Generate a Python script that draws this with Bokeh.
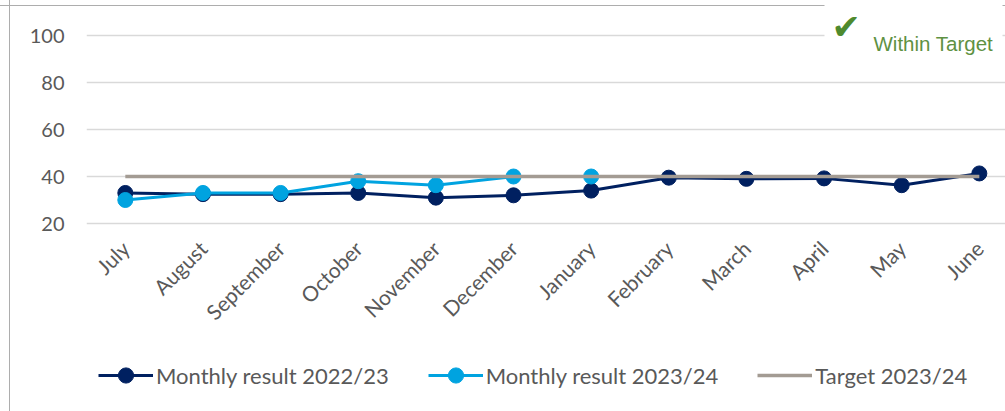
import math
from bokeh.plotting import figure
from bokeh.models import (FixedTicker, Legend, LegendItem, Label, BoxAnnotation,
                          Range1d, ColumnDataSource)
from bokeh.embed import file_html
from bokeh.resources import INLINE

months = ["July", "August", "September", "October", "November", "December",
          "January", "February", "March", "April", "May", "June"]
result_2022_23 = [33, 32.5, 32.5, 33, 31, 32, 34, 39.5, 39, 39.2, 36.3, 41.3]
result_2023_24 = [30, 33, 33, 38, 36.3, 40, 40]
target_2023_24 = [40, 40, 40, 40, 40, 40, 40, 40, 40, 40, 40, 40]
y_ticks = [20, 40, 60, 80, 100]

FONT = "Lato"
GREY_TXT = "#595959"
DARK = "#002060"
LIGHT = "#00A3E0"
TARGET = "#A39B93"
BORDER = "#ADADAD"

x_all = list(range(len(months)))
src_a = ColumnDataSource(dict(x=x_all, y=result_2022_23))
src_b = ColumnDataSource(dict(x=x_all[:len(result_2023_24)], y=result_2023_24))
src_t = ColumnDataSource(dict(x=x_all, y=target_2023_24))

p = figure(width=1005, height=411,
           x_range=Range1d(-0.5, 11.337), y_range=Range1d(-60, 114.894),
           output_backend="svg", toolbar_location=None,
           min_border_left=86, min_border_right=0,
           min_border_top=0, min_border_bottom=0)
p.outline_line_color = None
p.background_fill_color = None
p.border_fill_color = None
p.styles = {
    "background-color": "white",
    "background-image": ("linear-gradient(to right, transparent 9px, %s 9px, %s 10px, transparent 10px),"
                         "linear-gradient(to bottom, transparent 5px, %s 5px, %s 6px, transparent 6px)")
                        % (BORDER, BORDER, BORDER, BORDER),
}

p.xgrid.visible = False
p.ygrid.grid_line_color = "#D9D9D9"
p.ygrid.grid_line_width = 1.5
p.ygrid.ticker = FixedTicker(ticks=y_ticks)

p.yaxis.ticker = FixedTicker(ticks=y_ticks)
p.yaxis.axis_line_color = None
p.yaxis.major_tick_line_color = None
p.yaxis.minor_tick_line_color = None
p.yaxis.major_label_text_font = FONT
p.yaxis.major_label_text_font_size = "20px"
p.yaxis.major_label_text_color = GREY_TXT
p.yaxis.major_label_standoff = 16

p.xaxis.fixed_location = y_ticks[0]
p.xaxis.ticker = FixedTicker(ticks=x_all)
p.xaxis.major_label_overrides = {i: m for i, m in enumerate(months)}
p.xaxis.major_label_orientation = math.pi / 4
p.xaxis.axis_line_color = None
p.xaxis.major_tick_line_color = None
p.xaxis.minor_tick_line_color = None
p.xaxis.major_label_text_font = FONT
p.xaxis.major_label_text_font_size = "21px"
p.xaxis.major_label_text_color = GREY_TXT
p.xaxis.major_label_standoff = 15

la = p.line("x", "y", source=src_a, line_color=DARK, line_width=3)
sa = p.scatter("x", "y", source=src_a, size=15, fill_color=DARK, line_color=DARK)
lb = p.line("x", "y", source=src_b, line_color=LIGHT, line_width=3)
sb = p.scatter("x", "y", source=src_b, size=15, fill_color=LIGHT, line_color=LIGHT)
lt = p.line("x", "y", source=src_t, line_color=TARGET, line_width=3.5)

legend = Legend(items=[LegendItem(label="Monthly result 2022/23", renderers=[la, sa]),
                       LegendItem(label="Monthly result 2023/24", renderers=[lb, sb]),
                       LegendItem(label="Target 2023/24", renderers=[lt])],
                location=(12, 17), orientation="horizontal",
                label_text_font=FONT, label_text_font_size="22px",
                label_text_color=GREY_TXT, glyph_width=55, glyph_height=38,
                spacing=39, label_standoff=3, padding=5, margin=0,
                background_fill_alpha=0, border_line_color=None)
p.add_layout(legend)

# white box behind the status badge (interrupts border and top gridline)
badge = BoxAnnotation(left=738, right=916, top=420, bottom=361,
                      left_units="screen", right_units="screen",
                      top_units="screen", bottom_units="screen",
                      fill_color="white", fill_alpha=1, line_color=None)
p.add_layout(badge)
check = Label(x=745, y=385, x_units="screen", y_units="screen", text="\u2714",
              text_font="DejaVu Sans", text_font_size="35px",
              text_color="#4E8A2E", text_baseline="middle")
p.add_layout(check)
status = Label(x=787, y=368, x_units="screen", y_units="screen", text="Within Target",
               text_font="Liberation Sans", text_font_size="20.5px",
               text_color="#5E9142", text_baseline="alphabetic")
p.add_layout(status)

open("out.html", "w").write(file_html(p, INLINE))
